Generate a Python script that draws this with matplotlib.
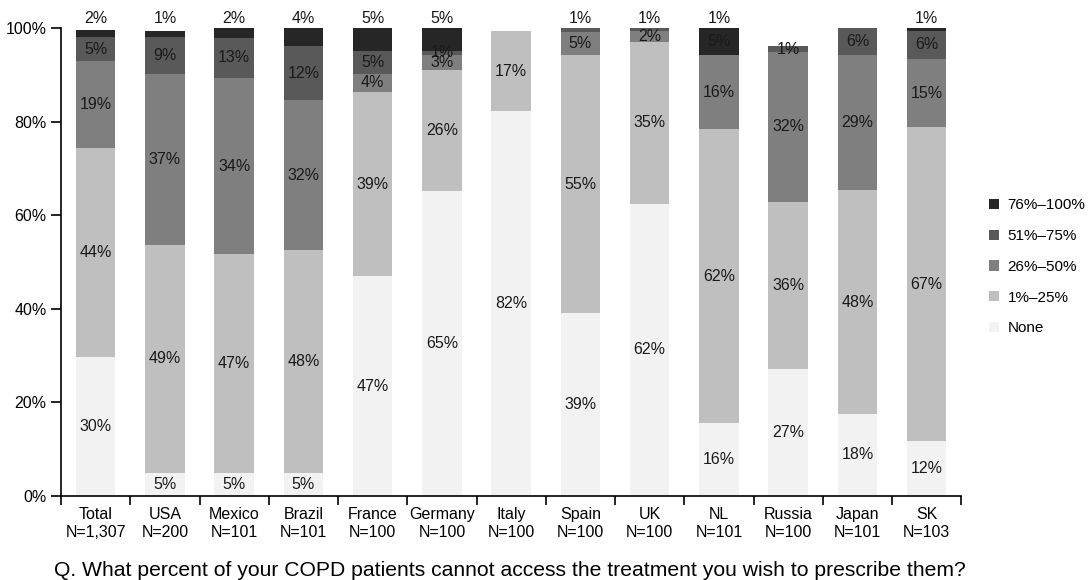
import matplotlib.pyplot as plt
import numpy as np
from matplotlib.patches import Patch

plt.rcParams['font.family'] = ['Liberation Sans', 'DejaVu Sans']

# categories and sample sizes
countries = ["Total", "USA", "Mexico", "Brazil", "France", "Germany", "Italy",
             "Spain", "UK", "NL", "Russia", "Japan", "SK"]
sizes = ["N=1,307", "N=200", "N=101", "N=101", "N=100", "N=100", "N=100",
         "N=100", "N=100", "N=101", "N=100", "N=101", "N=103"]

# segment heights (% of respondents)
none_v = [29.7, 5.0, 5.0, 5.0, 47.0, 65.1, 82.2, 39.0, 62.4, 15.5, 27.1, 17.6, 11.7]
low_v = [44.7, 48.6, 46.7, 47.5, 39.3, 25.9, 17.2, 55.2, 34.6, 62.9, 35.7, 47.7, 67.1]
mid_v = [18.5, 36.6, 37.6, 32.1, 3.9, 3.2, 0.0, 4.9, 2.4, 15.8, 32.1, 28.9, 14.6]
high_v = [5.2, 7.9, 8.6, 11.5, 4.9, 0.9, 0.0, 0.9, 0.6, 0.0, 1.2, 5.8, 6.0]
top_v = [1.5, 1.3, 2.1, 3.9, 4.9, 4.9, 0.0, 0.0, 0.0, 5.8, 0.0, 0.0, 0.6]

# printed labels
none_lbl = ["30%", "5%", "5%", "5%", "47%", "65%", "82%", "39%", "62%", "16%", "27%", "18%", "12%"]
low_lbl = ["44%", "49%", "47%", "48%", "39%", "26%", "17%", "55%", "35%", "62%", "36%", "48%", "67%"]
mid_lbl = ["19%", "37%", "34%", "32%", "4%", "3%", "", "5%", "2%", "16%", "32%", "29%", "15%"]
high_lbl = ["5%", "9%", "13%", "12%", "5%", "1%", "", "", "", "", "1%", "6%", "6%"]
top_lbl = ["", "", "", "", "", "", "", "", "", "5%", "", "", ""]
above_lbl = ["2%", "1%", "2%", "4%", "5%", "5%", "", "1%", "1%", "1%", "", "", "1%"]

series = ["None", "1%\u201325%", "26%\u201350%", "51%\u201375%", "76%\u2013100%"]
colors = ["#f2f2f2", "#bfbfbf", "#7f7f7f", "#595959", "#262626"]

values = [none_v, low_v, mid_v, high_v, top_v]
labels = [none_lbl, low_lbl, mid_lbl, high_lbl, top_lbl]

fig = plt.figure(figsize=(10.9, 5.8), dpi=100)
ax = fig.add_axes([0.056, 0.1448, 0.826, 0.807])

x = np.arange(len(countries))
bottom = np.zeros(len(countries))
for vals, lbls, col in zip(values, labels, colors):
    vals = np.array(vals)
    ax.bar(x, vals, 0.57, bottom=bottom, color=col, linewidth=0)
    for i in range(len(x)):
        if lbls[i]:
            ax.text(x[i], bottom[i] + vals[i] / 2, lbls[i], ha="center", va="center",
                    fontsize=11.5, color="#1a1a1a")
    bottom = bottom + vals

for i in range(len(x)):
    if above_lbl[i]:
        ax.text(x[i], 100.4, above_lbl[i], ha="center", va="bottom", fontsize=11.5, color="#1a1a1a")

ax.set_xlim(-0.5, len(countries) - 0.5)
ax.set_ylim(0, 100)
ax.set_yticks(np.arange(0, 101, 20))
ax.set_yticklabels([str(v) + "%" for v in range(0, 101, 20)], fontsize=11.5)
ax.set_xticks(x)
ax.set_xticklabels([c + "\n" + n for c, n in zip(countries, sizes)], fontsize=11.5,
                   linespacing=1.2)
ax.set_xticks(np.arange(-0.5, len(countries)), minor=True)
ax.tick_params(axis="x", which="major", length=0, pad=8)
ax.tick_params(axis="x", which="minor", length=6.5, width=1.2, direction="out")
ax.tick_params(axis="y", length=7, width=1.2, pad=3.5)

for s in ["top", "right"]:
    ax.spines[s].set_visible(False)
ax.spines["left"].set_linewidth(1.2)
ax.spines["bottom"].set_linewidth(1.2)
ax.spines["left"].set_bounds(0, 100)

handles = [Patch(facecolor=c, edgecolor="none", label=s) for s, c in zip(series, colors)][::-1]
fig.legend(handles=handles, loc="center left", bbox_to_anchor=(0.895, 0.54), frameon=False,
           fontsize=11, handlelength=0.65, handleheight=0.65, handletextpad=0.55,
           labelspacing=1.1)

fig.text(0.468, 0.017, "Q. What percent of your COPD patients cannot access the treatment you wish to prescribe them?",
         ha="center", va="center", fontsize=15.2)

fig.savefig("out.png", dpi=100)
